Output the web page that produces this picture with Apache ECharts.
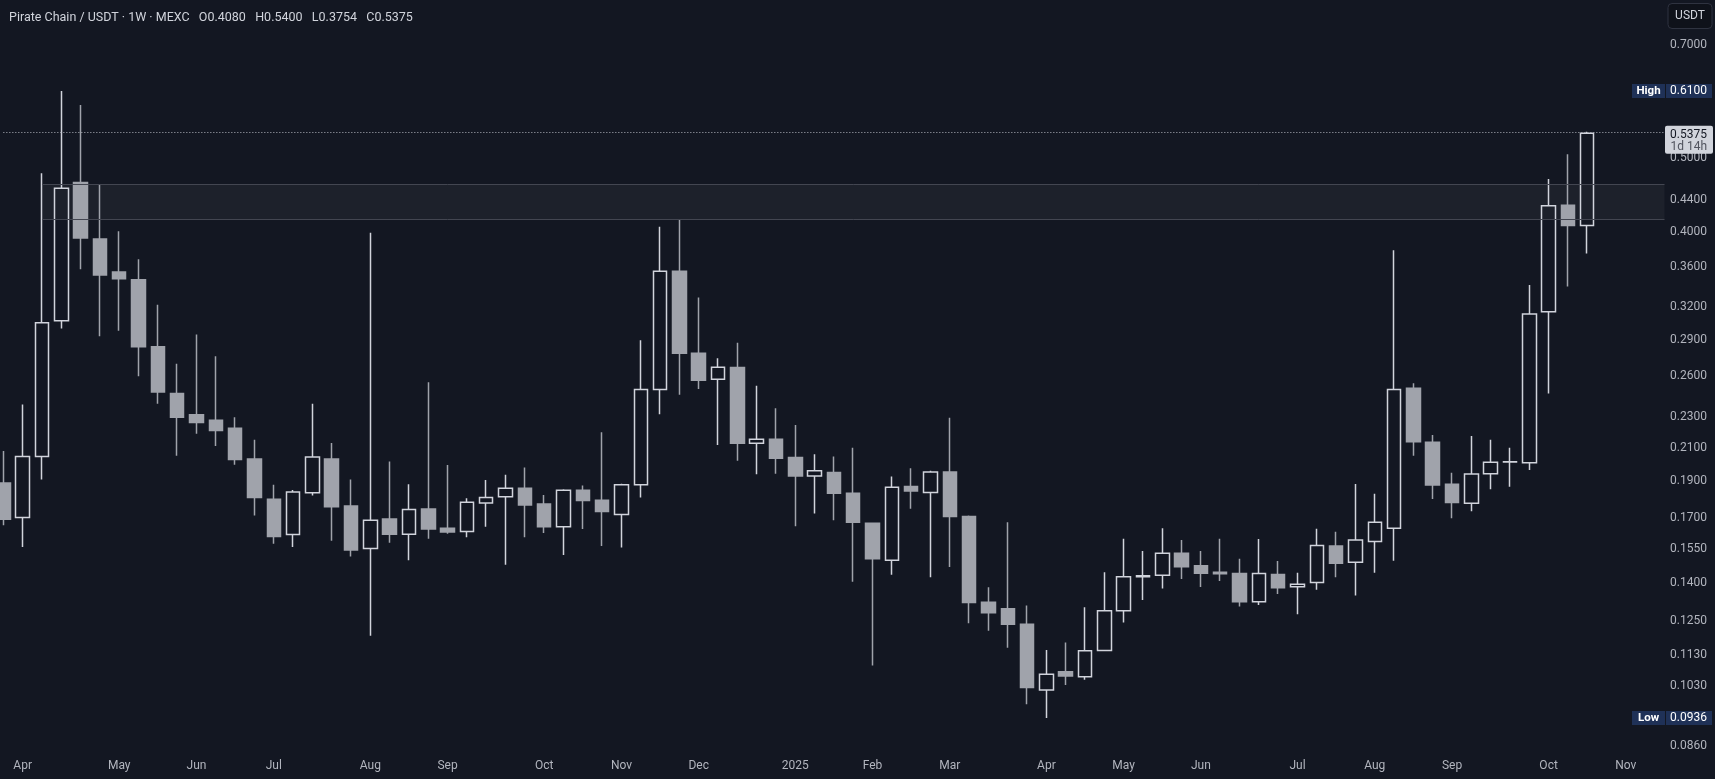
<!DOCTYPE html>
<html>
<head>
<meta charset="utf-8">
<script src="https://cdn.jsdelivr.net/npm/echarts@6/dist/echarts.min.js"></script>
<style>
html,body{margin:0;padding:0;background:#131722;}
#chart{width:1715px;height:779px;}
</style>
</head>
<body>
<div id="chart"></div>
<script>
// ---- Data (weekly candles, Pirate Chain / USDT, MEXC) ----
const weeks = [
 '2024-03-25','2024-04-01','2024-04-08','2024-04-15','2024-04-22','2024-04-29','2024-05-06','2024-05-13','2024-05-20','2024-05-27',
 '2024-06-03','2024-06-10','2024-06-17','2024-06-24','2024-07-01','2024-07-08','2024-07-15','2024-07-22','2024-07-29','2024-08-05',
 '2024-08-12','2024-08-19','2024-08-26','2024-09-02','2024-09-09','2024-09-16','2024-09-23','2024-09-30','2024-10-07','2024-10-14',
 '2024-10-21','2024-10-28','2024-11-04','2024-11-11','2024-11-18','2024-11-25','2024-12-02','2024-12-09','2024-12-16','2024-12-23',
 '2024-12-30','2025-01-06','2025-01-13','2025-01-20','2025-01-27','2025-02-03','2025-02-10','2025-02-17','2025-02-24','2025-03-03',
 '2025-03-10','2025-03-17','2025-03-24','2025-03-31','2025-04-07','2025-04-14','2025-04-21','2025-04-28','2025-05-05','2025-05-12',
 '2025-05-19','2025-05-26','2025-06-02','2025-06-09','2025-06-16','2025-06-23','2025-06-30','2025-07-07','2025-07-14','2025-07-21',
 '2025-07-28','2025-08-04','2025-08-11','2025-08-18','2025-08-25','2025-09-01','2025-09-08','2025-09-15','2025-09-22','2025-09-29',
 '2025-10-06','2025-10-13','2025-10-20','2025-10-27','2025-11-03','2025-11-10','2025-11-17'
];
const opens = [
 0.1890,0.1705,0.2045,0.3070,0.4640,0.3920,0.3550,0.3470,0.2840,0.2470,
 0.2317,0.2280,0.2225,0.2030,0.1800,0.1620,0.1835,0.2030,0.1764,0.1553,
 0.1697,0.1621,0.1748,0.1650,0.1634,0.1780,0.1813,0.1860,0.1775,0.1658,
 0.1849,0.1795,0.1720,0.1880,0.2500,0.3560,0.2785,0.2576,0.2668,0.2128,
 0.2153,0.2040,0.1930,0.1950,0.1833,0.1675,0.1500,0.1870,0.1837,0.1953,
 0.1710,0.1323,0.1297,0.1239,0.1018,0.1075,0.1059,0.1145,0.1290,0.1428,
 0.1434,0.1532,0.1475,0.1447,0.1442,0.1325,0.1437,0.1386,0.1403,0.1565,
 0.1491,0.1586,0.1650,0.2508,0.2134,0.1883,0.1779,0.1943,0.2012,0.2007,
 0.3154,0.4335,0.4080
];
const highs = [
 0.2080,0.2390,0.4770,0.6100,0.5850,0.4610,0.4010,0.3690,0.3220,0.2700,
 0.2946,0.2760,0.2300,0.2150,0.1880,0.1850,0.2395,0.2130,0.1910,0.3994,
 0.2015,0.1882,0.2554,0.1994,0.1805,0.1907,0.1937,0.1980,0.1823,0.1855,
 0.1875,0.2200,0.1885,0.2895,0.4066,0.4157,0.3290,0.2744,0.2875,0.2528,
 0.2362,0.2248,0.2060,0.2045,0.2100,0.1677,0.1926,0.1975,0.1960,0.2297,
 0.1715,0.1384,0.1680,0.1310,0.1147,0.1173,0.1303,0.1447,0.1600,0.1542,
 0.1650,0.1594,0.1542,0.1600,0.1507,0.1598,0.1497,0.1445,0.1648,0.1633,
 0.1884,0.1830,0.3790,0.2546,0.2181,0.1949,0.2175,0.2150,0.2100,0.3416,
 0.4690,0.5050,0.5400
];
const lows = [
 0.1666,0.1560,0.1910,0.3000,0.3580,0.2930,0.2980,0.2600,0.2395,0.2050,
 0.2190,0.2110,0.1996,0.1715,0.1576,0.1560,0.1820,0.1590,0.1517,0.1197,
 0.1580,0.1500,0.1600,0.1624,0.1607,0.1658,0.1480,0.1607,0.1627,0.1524,
 0.1647,0.1565,0.1558,0.1810,0.2320,0.2460,0.2503,0.2117,0.2020,0.1940,
 0.1943,0.1660,0.1725,0.1690,0.1407,0.1095,0.1436,0.1750,0.1426,0.1470,
 0.1242,0.1215,0.1155,0.0975,0.0936,0.1033,0.1049,0.1143,0.1245,0.1332,
 0.1378,0.1418,0.1385,0.1410,0.1306,0.1312,0.1356,0.1276,0.1373,0.1426,
 0.1350,0.1445,0.1498,0.2050,0.1802,0.1700,0.1737,0.1854,0.1869,0.1965,
 0.2470,0.3400,0.3754
];
const closes = [
 0.1695,0.2045,0.3050,0.4560,0.3930,0.3520,0.3480,0.2840,0.2480,0.2300,
 0.2264,0.2210,0.2027,0.1810,0.1610,0.1840,0.2043,0.1760,0.1547,0.1690,
 0.1621,0.1746,0.1647,0.1632,0.1784,0.1810,0.1860,0.1770,0.1658,0.1849,
 0.1793,0.1735,0.1880,0.2500,0.3560,0.2785,0.2570,0.2671,0.2128,0.2153,
 0.2035,0.1930,0.1960,0.1833,0.1680,0.1507,0.1866,0.1845,0.1953,0.1710,
 0.1322,0.1282,0.1239,0.1025,0.1067,0.1061,0.1144,0.1290,0.1428,0.1432,
 0.1532,0.1471,0.1443,0.1441,0.1325,0.1442,0.1382,0.1396,0.1567,0.1487,
 0.1593,0.1680,0.2500,0.2138,0.1879,0.1782,0.1941,0.2010,0.2014,0.3133,
 0.4330,0.4080,0.5375
];
const priceTicks = [0.70,0.61,0.50,0.44,0.40,0.36,0.32,0.29,0.26,0.23,0.21,0.19,0.17,0.155,0.14,0.125,0.113,0.103,0.086];
const monthNames = ['2025','Feb','Mar','Apr','May','Jun','Jul','Aug','Sep','Oct','Nov','Dec'];
const zoneRange = [0.4155, 0.4620];
const zoneStartWeek = '2024-04-08';
const lastPrice = 0.5375;
const periodHigh = 0.6100;
const periodLow = 0.0936;
const titleText = 'Pirate Chain / USDT · 1W · MEXC   O0.4080   H0.5400   L0.3754   C0.5375';

// ---- Chart ----
const BG = '#131722';
const FONT = 'Roboto, "Noto Sans", sans-serif';
const chart = echarts.init(document.getElementById('chart'), null, {renderer: 'canvas'});

const candleData = weeks.map((w, i) => i < opens.length ? [opens[i], closes[i], lows[i], highs[i]] : '-');

function isMonthStart(i) {
  if (i === 0) return false;
  return weeks[i].slice(5, 7) !== weeks[i - 1].slice(5, 7);
}
function monthLabel(val) {
  const m = parseInt(val.slice(5, 7), 10);
  if (m === 1) return val.slice(0, 4);
  return monthNames[m - 1];
}

const option = {
  backgroundColor: BG,
  animation: false,
  title: {
    text: titleText, left: 4, top: 6,
    textStyle: {color: '#d1d4dc', fontSize: 12.5, fontWeight: 'normal', fontFamily: FONT}
  },
  grid: {left: 3.35, right: 50.5, top: 0, bottom: 28, containLabel: false, outerBoundsMode: 'none'},
  xAxis: {
    type: 'category', data: weeks, boundaryGap: false,
    axisLine: {show: false}, axisTick: {show: false}, splitLine: {show: false},
    axisLabel: {
      color: '#b2b5be', fontSize: 12, fontFamily: FONT, margin: 9, hideOverlap: false,
      interval: (idx) => isMonthStart(idx),
      formatter: (val) => monthLabel(val)
    }
  },
  yAxis: {
    type: 'log', logBase: 10, min: 0.0848, max: 0.8008, position: 'right',
    axisLine: {show: false}, axisTick: {show: false}, axisLabel: {show: false}, splitLine: {show: false}
  },
  series: [{
    type: 'candlestick', data: candleData, barWidth: 14, clip: false,
    itemStyle: {
      color: 'transparent', color0: '#a0a3ab',
      borderColor: '#d1d4dc', borderColor0: '#a0a3ab', borderWidth: 1.5
    },
    markArea: {
      silent: true,
      itemStyle: {color: 'rgba(255,255,255,0.045)'},
      data: [[{xAxis: zoneStartWeek, yAxis: zoneRange[0]}, {xAxis: weeks[weeks.length - 1], yAxis: zoneRange[1]}]]
    },
    markLine: {
      silent: true, symbol: 'none', label: {show: false},
      lineStyle: {color: '#434651', type: 'solid', width: 1},
      data: [
        [{xAxis: zoneStartWeek, yAxis: zoneRange[0]}, {xAxis: weeks[weeks.length - 1], yAxis: zoneRange[0]}],
        [{xAxis: zoneStartWeek, yAxis: zoneRange[1]}, {xAxis: weeks[weeks.length - 1], yAxis: zoneRange[1]}]
      ]
    }
  }, {
    type: 'line', data: [], silent: true,
    markLine: {
      silent: true, symbol: 'none', label: {show: false},
      lineStyle: {color: '#b2b5be', type: [1, 2], width: 1},
      data: [{yAxis: lastPrice}]
    }
  }]
};
chart.setOption(option);

// ---- Price scale labels and badges, placed through the y scale ----
const py = v => chart.convertToPixel({yAxisIndex: 0}, v);
const graphics = [];
priceTicks.forEach(v => {
  graphics.push({
    type: 'text', z: 10,
    style: {text: v.toFixed(4), x: 1707, y: py(v), align: 'right', verticalAlign: 'middle',
            fill: '#b2b5be', font: '12px ' + FONT}
  });
});
function badge(label, value) {
  const y = py(value);
  graphics.push({type: 'rect', z: 20, shape: {x: 1632, y: y - 7, width: 33, height: 14},
                 style: {fill: '#1f3157'}});
  graphics.push({type: 'rect', z: 20, shape: {x: 1666, y: y - 7, width: 46, height: 14},
                 style: {fill: '#1f3157'}});
  graphics.push({type: 'text', z: 21, style: {text: label, x: 1648.5, y: y, align: 'center', verticalAlign: 'middle',
                 fill: '#ffffff', font: 'bold 11.5px ' + FONT}});
  graphics.push({type: 'text', z: 21, style: {text: value.toFixed(4), x: 1707, y: y, align: 'right', verticalAlign: 'middle',
                 fill: '#ffffff', font: '12px ' + FONT}});
}
badge('High', periodHigh);
badge('Low', periodLow);

const yl = py(lastPrice);
graphics.push({type: 'rect', z: 20, shape: {x: 1665, y: yl - 7.5, width: 48, height: 28, r: 2},
               style: {fill: '#d1d4dc'}});
graphics.push({type: 'text', z: 21, style: {text: lastPrice.toFixed(4), x: 1707, y: yl + 1.5, align: 'right', verticalAlign: 'middle',
               fill: '#131722', font: '12px ' + FONT}});
graphics.push({type: 'text', z: 21, style: {text: '1d 14h', x: 1707, y: yl + 13.5, align: 'right', verticalAlign: 'middle',
               fill: '#50535e', font: '12px ' + FONT}});

graphics.push({type: 'rect', z: 20, shape: {x: 1668, y: 3.5, width: 44, height: 25, r: 4},
               style: {fill: '#0f121a', stroke: '#2f3340', lineWidth: 1}});
graphics.push({type: 'text', z: 21, style: {text: 'USDT', x: 1690, y: 16, align: 'center', verticalAlign: 'middle',
               fill: '#d1d4dc', font: '12px ' + FONT}});

chart.setOption({graphic: graphics});
</script>
</body>
</html>
